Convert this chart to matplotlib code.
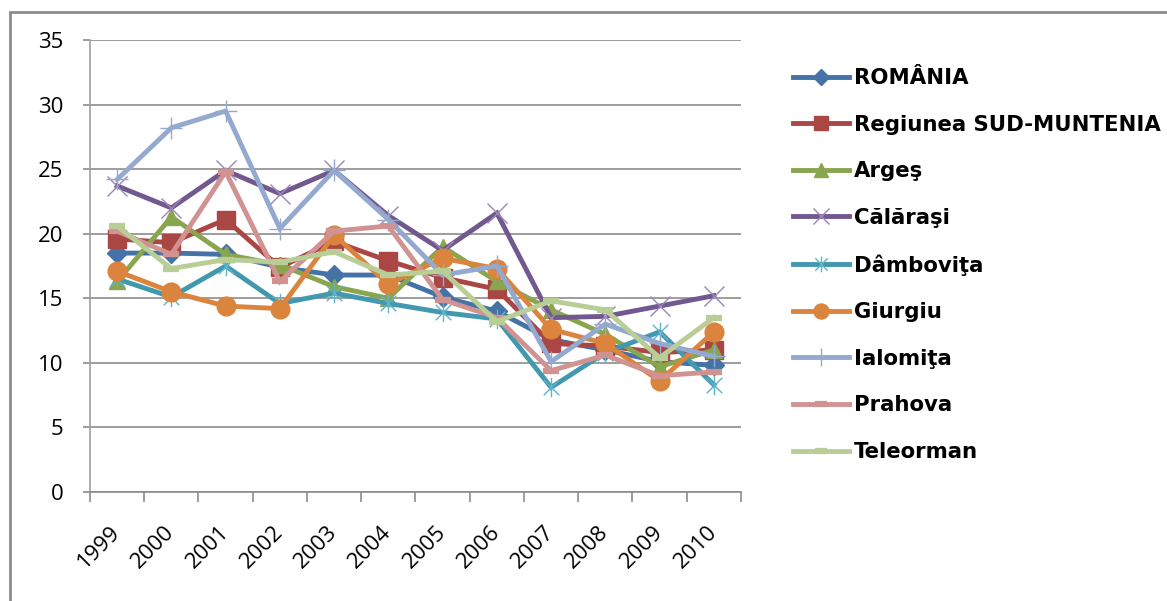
import numpy as np
import matplotlib
matplotlib.use("Agg")
import matplotlib.pyplot as plt
from matplotlib.path import Path
from matplotlib.patches import Rectangle

years = ["1999", "2000", "2001", "2002", "2003", "2004",
         "2005", "2006", "2007", "2008", "2009", "2010"]

romania   = [18.5, 18.5, 18.4, 17.4, 16.8, 16.8, 15.1, 14.0, 11.8, 11.0, 10.1, 9.8]
sud_munt  = [19.6, 19.3, 21.1, 17.4, 19.4, 17.9, 16.6, 15.7, 11.5, 11.3, 10.8, 11.0]
arges     = [16.3, 21.3, 18.4, 17.6, 15.9, 15.0, 19.0, 16.3, 14.1, 12.2, 9.7, 11.0]
calarasi  = [23.7, 22.0, 24.9, 23.1, 24.9, 21.4, 18.7, 21.6, 13.5, 13.6, 14.4, 15.2]
dambovita = [16.5, 15.1, 17.5, 14.6, 15.4, 14.6, 13.9, 13.4, 8.1, 10.8, 12.4, 8.3]
giurgiu   = [17.1, 15.5, 14.4, 14.2, 19.9, 16.1, 18.1, 17.3, 12.6, 11.5, 8.6, 12.4]
ialomita  = [24.2, 28.2, 29.5, 20.4, 24.9, 21.1, 16.8, 17.5, 10.1, 13.0, 11.5, 10.5]
prahova   = [20.2, 18.4, 24.8, 16.3, 20.2, 20.6, 14.9, 13.5, 9.4, 10.6, 9.0, 9.3]
teleorman = [20.6, 17.3, 18.0, 17.8, 18.6, 16.8, 17.1, 13.2, 14.8, 14.1, 10.4, 13.5]

# asterisk marker: vertical bar + x
star = Path([(0, -1), (0, 1), (-0.8, -0.8), (0.8, 0.8), (-0.8, 0.8), (0.8, -0.8)],
            [Path.MOVETO, Path.LINETO] * 3)

series = [
    ("ROMÂNIA", romania, "#4572A7", dict(marker="D", ms=10)),
    ("Regiunea SUD-MUNTENIA", sud_munt, "#AA4643", dict(marker="s", ms=13)),
    ("Argeş", arges, "#89A54E", dict(marker="^", ms=12)),
    ("Călăraşi", calarasi, "#71588F", dict(marker="x", ms=14, mew=1.0, mec="#9C86BB")),
    ("Dâmboviţa", dambovita, "#4198AF", dict(marker=star, ms=14, mew=1.0, mec="#5FB4CB")),
    ("Giurgiu", giurgiu, "#DB843D", dict(marker="o", ms=13.5)),
    ("Ialomiţa", ialomita, "#93A9CF", dict(marker="+", ms=16, mew=1.0)),
    ("Prahova", prahova, "#D19392", dict(marker="_", ms=11, mew=4.5)),
    ("Teleorman", teleorman, "#B9CD96", dict(marker="_", ms=11, mew=4.5)),
]

fig = plt.figure(figsize=(11.67, 6.01), dpi=100)
ax = fig.add_axes([90 / 1167, 1 - 492 / 601, (741 - 90) / 1167, (492 - 40) / 601])

x = np.arange(len(years))
for name, vals, col, mk in series:
    ax.plot(x, vals, color=col, lw=3.5, label=name, solid_joinstyle="miter", **mk)

ax.set_xlim(-0.5, len(years) - 0.5)
ax.set_ylim(0, 35)
ax.set_yticks(range(0, 36, 5))
ax.yaxis.grid(True, color="#8C8C8C", lw=1.2)
ax.set_axisbelow(True)
for s in ["top", "right"]:
    ax.spines[s].set_visible(False)
ax.spines["left"].set_color("#A0A0A0")
ax.spines["bottom"].set_color("#8C8C8C")
ax.spines["left"].set_linewidth(1.2)
ax.spines["bottom"].set_linewidth(1.2)

ax.set_xticks(x)
ax.set_xticklabels(years, rotation=45, ha="right", va="center", rotation_mode="anchor",
                   fontsize=16, family="Open Sans")
ax.set_xticks(np.arange(-0.5, len(years)), minor=True)
ax.tick_params(axis="x", which="major", length=0, pad=27)
ax.tick_params(axis="x", which="minor", length=7, color="#8C8C8C", width=1.2)
ax.tick_params(axis="y", length=5, color="#8C8C8C", width=1.2, labelsize=16, pad=14)
for t in ax.get_yticklabels():
    t.set_family("Open Sans")

leg = fig.legend(loc="upper left", bbox_to_anchor=(793 / 1167, 1 - 68 / 601),
                 frameon=False, prop=dict(family="DejaVu Sans", weight="bold", size=15.3),
                 handlelength=2.65, handletextpad=0.2, labelspacing=1.25,
                 borderaxespad=0, borderpad=0, markerscale=0.8)

fig.patches.append(Rectangle((10 / 1167, -0.1), 1.2, 1.1 - 12 / 601,
                             transform=fig.transFigure, fill=False,
                             edgecolor="#8C8C8C", lw=2))

fig.savefig("out.png", dpi=100)
